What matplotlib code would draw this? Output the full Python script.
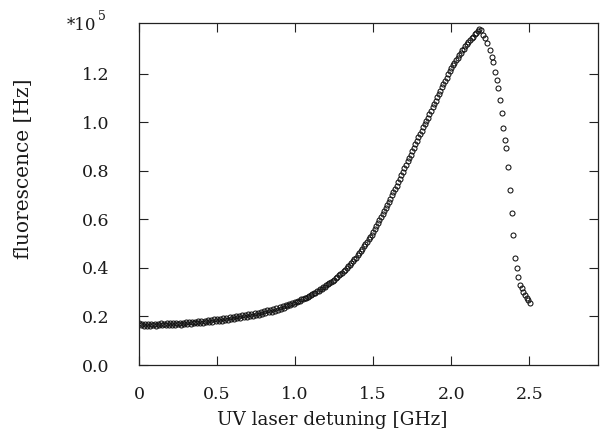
import matplotlib
matplotlib.use("Agg")
import matplotlib.pyplot as plt

# ---- data ----
detuning_rise = [
    0.00, 0.01, 0.02, 0.03, 0.04, 0.05, 0.06, 0.07, 0.08, 0.09,
    0.10, 0.11, 0.12, 0.13, 0.14, 0.15, 0.16, 0.17, 0.18, 0.19,
    0.20, 0.21, 0.22, 0.23, 0.24, 0.25, 0.26, 0.27, 0.28, 0.29,
    0.30, 0.31, 0.32, 0.33, 0.34, 0.35, 0.36, 0.37, 0.38, 0.39,
    0.40, 0.41, 0.42, 0.43, 0.44, 0.45, 0.46, 0.47, 0.48, 0.49,
    0.50, 0.51, 0.52, 0.53, 0.54, 0.55, 0.56, 0.57, 0.58, 0.59,
    0.60, 0.61, 0.62, 0.63, 0.64, 0.65, 0.66, 0.67, 0.68, 0.69,
    0.70, 0.71, 0.72, 0.73, 0.74, 0.75, 0.76, 0.77, 0.78, 0.79,
    0.80, 0.81, 0.82, 0.83, 0.84, 0.85, 0.86, 0.87, 0.88, 0.89,
    0.90, 0.91, 0.92, 0.93, 0.94, 0.95, 0.96, 0.97, 0.98, 0.99,
    1.00, 1.01, 1.02, 1.03, 1.04, 1.05, 1.06, 1.07, 1.08, 1.09,
    1.10, 1.11, 1.12, 1.13, 1.14, 1.15, 1.16, 1.17, 1.18, 1.19,
    1.20, 1.21, 1.22, 1.23, 1.24, 1.25, 1.26, 1.27, 1.28, 1.29,
    1.30, 1.31, 1.32, 1.33, 1.34, 1.35, 1.36, 1.37, 1.38, 1.39,
    1.40, 1.41, 1.42, 1.43, 1.44, 1.45, 1.46, 1.47, 1.48, 1.49,
    1.50, 1.51, 1.52, 1.53, 1.54, 1.55, 1.56, 1.57, 1.58, 1.59,
    1.60, 1.61, 1.62, 1.63, 1.64, 1.65, 1.66, 1.67, 1.68, 1.69,
    1.70, 1.71, 1.72, 1.73, 1.74, 1.75, 1.76, 1.77, 1.78, 1.79,
    1.80, 1.81, 1.82, 1.83, 1.84, 1.85, 1.86, 1.87, 1.88, 1.89,
    1.90, 1.91, 1.92, 1.93, 1.94, 1.95, 1.96, 1.97, 1.98, 1.99,
    2.00, 2.01, 2.02, 2.03, 2.04, 2.05, 2.06, 2.07, 2.08, 2.09,
    2.10, 2.11, 2.12, 2.13, 2.14, 2.15, 2.16, 2.17, 2.18, 2.19,
]
fluor_rise = [
    0.172, 0.163, 0.169, 0.161, 0.168, 0.162, 0.170, 0.161, 0.167, 0.163,
    0.170, 0.162, 0.169, 0.163, 0.171, 0.164, 0.169, 0.163, 0.172, 0.165,
    0.171, 0.165, 0.173, 0.166, 0.172, 0.167, 0.174, 0.166, 0.175, 0.168,
    0.176, 0.169, 0.177, 0.170, 0.178, 0.171, 0.179, 0.172, 0.181, 0.173,
    0.181, 0.175, 0.183, 0.176, 0.185, 0.177, 0.186, 0.179, 0.188, 0.180,
    0.189, 0.182, 0.191, 0.183, 0.193, 0.185, 0.194, 0.187, 0.196, 0.188,
    0.198, 0.190, 0.200, 0.192, 0.202, 0.194, 0.204, 0.196, 0.207, 0.198,
    0.209, 0.201, 0.211, 0.203, 0.214, 0.206, 0.216, 0.208, 0.219, 0.211,
    0.222, 0.214, 0.225, 0.217, 0.228, 0.220, 0.231, 0.224, 0.235, 0.228,
    0.239, 0.232, 0.243, 0.236, 0.247, 0.241, 0.252, 0.246, 0.257, 0.251,
    0.259, 0.260, 0.264, 0.265, 0.270, 0.271, 0.276, 0.277, 0.282, 0.284,
    0.289, 0.291, 0.296, 0.298, 0.304, 0.306, 0.311, 0.314, 0.320, 0.322,
    0.328, 0.332, 0.337, 0.341, 0.348, 0.351, 0.358, 0.362, 0.369, 0.373,
    0.380, 0.386, 0.392, 0.398, 0.406, 0.412, 0.420, 0.427, 0.435, 0.442,
    0.452, 0.461, 0.470, 0.479, 0.489, 0.498, 0.508, 0.518, 0.528, 0.537,
    0.549, 0.560, 0.572, 0.584, 0.597, 0.608, 0.621, 0.633, 0.646, 0.657,
    0.671, 0.684, 0.699, 0.711, 0.726, 0.739, 0.754, 0.767, 0.782, 0.795,
    0.810, 0.825, 0.838, 0.853, 0.866, 0.881, 0.894, 0.909, 0.922, 0.937,
    0.951, 0.964, 0.979, 0.992, 1.006, 1.019, 1.034, 1.047, 1.062, 1.074,
    1.089, 1.102, 1.116, 1.129, 1.143, 1.156, 1.170, 1.182, 1.197, 1.209,
    1.222, 1.234, 1.245, 1.257, 1.266, 1.277, 1.285, 1.296, 1.303, 1.313,
    1.321, 1.331, 1.337, 1.347, 1.352, 1.362, 1.368, 1.376, 1.382, 1.378,
]
detuning_fall = [
    2.205, 2.218, 2.231, 2.250, 2.263, 2.269, 2.282, 2.295, 2.301, 2.314,
    2.327, 2.333, 2.346, 2.353, 2.365, 2.378, 2.391, 2.397, 2.410, 2.423,
    2.429, 2.442, 2.455, 2.462, 2.474, 2.487, 2.494, 2.506,
]
fluor_fall = [
    1.358, 1.346, 1.325, 1.296, 1.267, 1.247, 1.206, 1.173, 1.140, 1.091,
    1.037, 0.975, 0.926, 0.893, 0.815, 0.720, 0.626, 0.535, 0.440, 0.399,
    0.362, 0.329, 0.317, 0.300, 0.288, 0.276, 0.267, 0.255,
]
xticks = [0.0, 0.5, 1.0, 1.5, 2.0, 2.5]
xtick_labels = ["0", "0.5", "1.0", "1.5", "2.0", "2.5"]
yticks = [0.0, 0.2, 0.4, 0.6, 0.8, 1.0, 1.2]
ytick_labels = ["0.0", "0.2", "0.4", "0.6", "0.8", "1.0", "1.2"]

FONT = "DejaVu Serif"
TXT = "#1a1a1a"

fig = plt.figure(figsize=(6.02, 4.43), dpi=100)
ax = fig.add_axes([0.2309, 0.176, 0.7625, 0.772])

x_all = detuning_rise + detuning_fall
y_all = fluor_rise + fluor_fall
ax.plot(x_all, y_all, linestyle="none", marker="o", markersize=3.6,
        markerfacecolor="none", markeredgecolor="#111111", markeredgewidth=0.75)

ax.set_xlim(0, 2.94)
ax.set_ylim(0, 1.408)
ax.set_xticks(xticks)
ax.set_xticklabels(xtick_labels)
ax.set_yticks(yticks)
ax.set_yticklabels(ytick_labels)
ax.tick_params(direction="in", length=6.5, width=0.8, top=True, right=True,
               colors="#222222", labelcolor=TXT, labelsize=12.5)
ax.tick_params(axis="x", pad=15)
ax.tick_params(axis="y", pad=21)
for lab in ax.get_xticklabels() + ax.get_yticklabels():
    lab.set_fontfamily(FONT)
for sp in ax.spines.values():
    sp.set_linewidth(0.9)
    sp.set_color("#222222")

ax.set_xlabel("UV laser detuning [GHz]", fontsize=13.2, family=FONT, color=TXT)
ax.xaxis.set_label_coords(0.422, -0.135)
ax.set_ylabel("fluorescence [Hz]", fontsize=14.5, family=FONT, color=TXT)
ax.yaxis.set_label_coords(-0.232, 0.573)

fig.text(0.111, 0.933, "*10", fontsize=12, family=FONT, color=TXT,
         ha="left", va="baseline")
fig.text(0.163, 0.955, "5", fontsize=9, family=FONT, color=TXT,
         ha="left", va="baseline")

fig.savefig("out.png", dpi=100)
